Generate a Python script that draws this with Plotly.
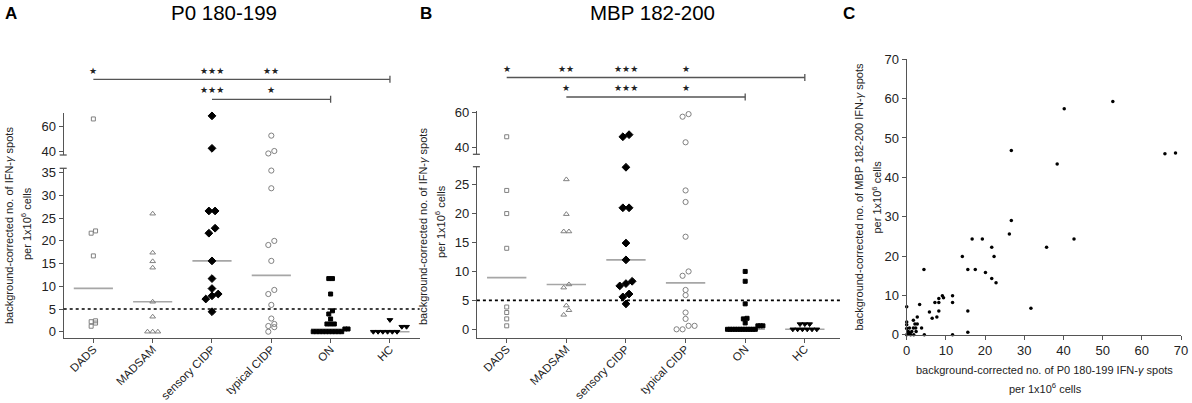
import numpy as np
import plotly.graph_objects as go

W, H = 1192, 403
FONT = "Liberation Sans, Arial, sans-serif"

groups = ["DADS", "MADSAM", "sensory CIDP", "typical CIDP", "ON", "HC"]

# panel A - P0 180-199 (background-corrected IFN-g spots per 1x10^6 cells)
p0_dads = [65.5, 22.2, 21.7, 16.7, 2.4, 2.2, 1.9, 1.2]
p0_madsam = [26.0, 17.4, 15.5, 14.1, 6.6, 3.3, 0, 0, 0]
p0_sensory = [67.9, 42.6, 26.6, 26.6, 22.8, 21.7, 15.6, 11.7, 9.5, 8.3, 7.9, 7.2, 4.4]
p0_typical = [52.5, 40.5, 38.6, 35.5, 31.6, 20.0, 19.1, 15.6, 9.2, 8.3, 5.9, 2.9, 1.7, 1.25, 1.0, 0]
p0_on = [11.7, 11.7, 8.3, 4.6, 3.9, 2.8, 1.7, 1.7, 1.7, 0.6, 0.6, 0, 0, 0, 0, 0, 0, 0, 0, 0, 0]
p0_hc = [2.6, 1.1, 1.1, 0, 0, 0, 0, 0, 0]

# panel B - MBP 182-200
mbp_dads = [46.1, 24.0, 20.0, 14.0, 3.85, 2.9, 1.8, 0.6]
mbp_madsam = [25.9, 19.9, 16.9, 16.9, 7.75, 7.2, 4.1, 3.3, 2.5]
mbp_sensory = [47.3, 46.1, 28.0, 21.0, 21.0, 14.9, 12.0, 8.3, 7.9, 7.5, 6.1, 5.6, 4.4]
mbp_typical = [59.2, 57.7, 42.9, 24.0, 22.0, 16.0, 10.0, 9.25, 6.8, 5.9, 2.9, 1.8, 0.6, 0.6, 0, 0]
mbp_on = [10.0, 8.3, 4.4, 1.9, 1.8, 1.1, 0.6, 0.6, 0.6, 0, 0, 0, 0, 0, 0, 0, 0, 0, 0, 0, 0]
mbp_hc = [0.9, 0.9, 0.9, 0, 0, 0, 0, 0, 0]

# significance brackets: (from, to, stars per group)
p0_sig = [("DADS", "HC", {"DADS": 1, "sensory CIDP": 3, "typical CIDP": 2}),
          ("sensory CIDP", "ON", {"sensory CIDP": 3, "typical CIDP": 1})]
mbp_sig = [("DADS", "HC", {"DADS": 1, "MADSAM": 2, "sensory CIDP": 3, "typical CIDP": 1}),
           ("MADSAM", "ON", {"MADSAM": 1, "sensory CIDP": 3, "typical CIDP": 1})]

# panel C - P0 vs MBP per sample
scatter_p0 = [26.7, 26.2, 16.7, 19.3, 21.7, 22.3, 14.2, 15.6, 17.5, 4.4, 20.1, 21.7, 22.8,
              11.7, 11.7, 9.1, 9.4, 8.2, 7.2, 8.2, 3.3, 5.8, 8.2, 15.6, 7.7, 6.5, 0, 2.7,
              1.7, 2.1, 2.7, 3.8, 1.7, 2.3, 0.7, 0, 0, 0, 0.4, 1.3, 2.4, 0.8, 0.3, 0, 4.5,
              11.7, 15.6, 1.0, 1.8, 52.6, 40.2, 26.7, 38.4, 65.9, 68.6, 42.7, 35.7, 31.7]
scatter_mbp = [29.0, 25.6, 24.3, 24.3, 22.2, 19.9, 19.9, 16.6, 16.6, 16.6, 15.8, 14.3, 13.2,
               9.9, 8.2, 9.9, 9.4, 9.2, 8.2, 8.2, 7.7, 5.8, 6.0, 6.0, 4.5, 4.2, 7.1, 4.5,
               3.7, 2.7, 2.7, 1.7, 1.7, 1.7, 1.7, 3.2, 2.5, 1.6, 0.8, 0.8, 0.8, 0.4, 0.2, 0, 0,
               0, 0.6, 0, 0, 59.3, 57.4, 46.8, 43.4, 46.0, 46.2, 24.3, 22.2, 6.7]

# marker look per group: symbol, size, colour, step between neighbours (px)
styles = [("square-open", 4, "#808080", 4.4),
          ("triangle-up-open", 5, "#808080", 5.2),
          ("diamond", 6, "black", 6.2),
          ("circle-open", 5.2, "#808080", 6.0),
          ("square", 4, "black", 3.7),
          ("triangle-down", 5, "black", 4.8)]

AXC = "#555555"

fig = go.Figure()
shapes = []
annotations = []


def px_x(p):
    return p / W


def px_y(p):
    return 1 - p / H


def note(text, x, y, size, angle=0, family=FONT, color="#222", xref="paper"):
    annotations.append(dict(text=text, xref=xref, yref="paper", x=x, y=y, textangle=angle,
                            xanchor="center", yanchor="middle", showarrow=False,
                            font=dict(family=family, size=size, color=color)))


def swarm(vals, height_px, size_px, step_px, unit_px, maxw=38):
    # simple beeswarm: bin by pixel height, spread each bin sideways
    order = sorted(range(len(vals)), key=lambda i: vals[i])
    bins = []
    for i in order:
        p = height_px(vals[i])
        if bins and p - bins[-1][0] < size_px:
            bins[-1][1].append(i)
        else:
            bins.append([p, [i]])
    offs = [0.0] * len(vals)
    for _, idx in bins:
        n = len(idx)
        st = min(step_px, maxw / n) if n > 1 else step_px
        for k, i in enumerate(idx):
            offs[i] = (k - (n - 1) / 2) * st / unit_px
    return offs


def dot_panel(data, sig, c, xn, lo, hi):
    x0, x1 = c["x_px"]
    unit = (x1 - x0) / (c["xr"][1] - c["xr"][0])
    k_lo = (c["lo_px"][0] - c["lo_px"][1]) / (c["lo_r"][1] - c["lo_r"][0])
    k_up = (c["up_px"][0] - c["up_px"][1]) / (c["up_r"][1] - c["up_r"][0])
    gap = c["lo_px"][0] - c["up_px"][0]

    def height(v):
        if v <= c["lo_r"][1]:
            return (v - c["lo_r"][0]) * k_lo
        return gap + (v - c["up_r"][0]) * k_up

    # median bars first so the points sit on top
    for i, vals in enumerate(data):
        m = float(np.median(vals))
        fig.add_trace(go.Scatter(x=[i - 0.33, i + 0.33], y=[m, m], mode="lines",
                                 line=dict(color="#a6a6a6", width=1.6),
                                 xaxis=xn, yaxis=lo, hoverinfo="skip"))
    for i, vals in enumerate(data):
        sym, size, col, step = styles[i]
        offs = swarm(vals, height, size, step, unit)
        for ax, keep in ((lo, lambda v: v <= c["lo_r"][1]), (hi, lambda v: v > c["lo_r"][1])):
            xs = [i + o for v, o in zip(vals, offs) if keep(v)]
            ys = [v for v in vals if keep(v)]
            if not ys:
                continue
            fig.add_trace(go.Scatter(
                x=xs, y=ys, mode="markers", xaxis=xn, yaxis=ax, cliponaxis=False,
                marker=dict(symbol=sym, size=size, color=col,
                            line=dict(color=col, width=1))))

    base = dict(showgrid=False, zeroline=False, showline=True, linecolor=AXC, linewidth=1.3,
                ticks="outside", ticklen=4, tickcolor=AXC, tickwidth=1.2, automargin=False,
                tickfont=dict(family=FONT, size=13, color="#222"))
    xk = "xaxis" + xn[1:]
    lk = "yaxis" + lo[1:]
    hk = "yaxis" + hi[1:]
    fig.layout[xk] = dict(base, domain=[px_x(x0), px_x(x1)], range=c["xr"], anchor=lo,
                          tickvals=list(range(len(groups))), ticktext=groups, tickangle=-45,
                          tickfont=dict(family=FONT, size=11.5, color="#222"),
                          ticklabelstandoff=-5)
    fig.layout[lk] = dict(base, domain=[px_y(c["lo_px"][0]), px_y(c["lo_px"][1])],
                          range=c["lo_r"], anchor=xn, tickvals=c["lo_ticks"])
    fig.layout[hk] = dict(base, domain=[px_y(c["up_px"][0]), px_y(c["up_px"][1])],
                          range=c["up_r"], anchor=xn, tickvals=c["up_ticks"])

    # axis break caps
    for yy in (c["lo_px"][1], c["up_px"][0]):
        shapes.append(dict(type="line", xref="paper", yref="paper",
                           x0=px_x(x0 - 4), x1=px_x(x0 + 3), y0=px_y(yy), y1=px_y(yy),
                           line=dict(color=AXC, width=1.3)))
    # threshold line at 5 spots
    shapes.append(dict(type="line", xref=xn + " domain", yref=lo, x0=0, x1=1, y0=5, y1=5,
                       line=dict(color="black", width=1.6, dash="dot")))
    # significance brackets
    for (a, b, stars), ly, sy in zip(sig, c["bar_px"], c["star_px"]):
        ia, ib = groups.index(a), groups.index(b)
        shapes.append(dict(type="line", xref=xn, yref="paper", x0=ia, x1=ib,
                           y0=px_y(ly), y1=px_y(ly), line=dict(color=AXC, width=1.3)))
        shapes.append(dict(type="line", xref=xn, yref="paper", x0=ib, x1=ib,
                           y0=px_y(ly - 3.5), y1=px_y(ly + 3.5), line=dict(color=AXC, width=1.3)))
        for g, n in stars.items():
            note("\u2605" * n, groups.index(g), px_y(sy), 9, family="DejaVu Sans", xref=xn)

    # panel title and y-axis title
    note(c["title"], px_x(c["title_px"][0]), px_y(c["title_px"][1]), 20.5, color="black")
    for txt, (tx, ty) in zip(ytitle, c["ytitle_px"]):
        note(txt, px_x(tx), px_y(ty), 11, angle=-90)


ytitle = ["background-corrected no. of IFN-<i>\u03b3</i> spots", "per 1x10<sup>6</sup> cells"]

cfg_a = dict(x_px=(63.7, 419.6), xr=[-0.5, 5.5],
             lo_px=(338.0, 168.3), lo_r=[-1.39, 36.0], lo_ticks=[0, 5, 10, 15, 20, 25, 30, 35],
             up_px=(155.0, 113.3), up_r=[37.4, 69.9], up_ticks=[40, 60],
             bar_px=(79.3, 99.3), star_px=(70.5, 90.5),
             title="P0 180-199", title_px=(224, 13), ytitle_px=[(9, 226), (26, 224)])
cfg_b = dict(x_px=(476.9, 840.0), xr=[-0.5, 5.59],
             lo_px=(337.7, 166.7), lo_r=[-1.45, 28.1], lo_ticks=[0, 5, 10, 15, 20, 25],
             up_px=(154.3, 111.0), up_r=[35.95, 61.0], up_ticks=[40, 60],
             bar_px=(77.5, 97.0), star_px=(68.5, 88.0),
             title="MBP 182-200", title_px=(653, 13), ytitle_px=[(423, 226), (440, 222)])

dot_panel([p0_dads, p0_madsam, p0_sensory, p0_typical, p0_on, p0_hc], p0_sig, cfg_a, "x", "y", "y2")
dot_panel([mbp_dads, mbp_madsam, mbp_sensory, mbp_typical, mbp_on, mbp_hc], mbp_sig, cfg_b, "x2", "y3", "y4")

# panel C
fig.add_trace(go.Scatter(x=scatter_p0, y=scatter_mbp, mode="markers", xaxis="x3", yaxis="y5",
                         cliponaxis=False, marker=dict(color="black", size=3.5)))
cax = dict(showgrid=False, zeroline=False, showline=True, linecolor=AXC, linewidth=1.3,
           ticks="outside", ticklen=4, tickcolor=AXC, tickwidth=1.2, range=[0, 70], dtick=10,
           automargin=False, tickfont=dict(family=FONT, size=13, color="#222"))
fig.layout["xaxis3"] = dict(cax, domain=[px_x(906.7), px_x(1181)], anchor="y5")
fig.layout["yaxis5"] = dict(cax, domain=[px_y(334.7), px_y(59.3)], anchor="x3")

c_titles = [("background-corrected no. of MBP 182-200 IFN-<i>\u03b3</i> spots", 858.5, 197, -90),
            ("per 1x10<sup>6</sup> cells", 876.5, 197, -90),
            ("background-corrected no. of P0 180-199 IFN-<i>\u03b3</i> spots", 1044, 370, 0),
            ("per 1x10<sup>6</sup> cells", 1045.5, 388, 0)]
for txt, tx, ty, ang in c_titles:
    note(txt, px_x(tx), px_y(ty), 11, angle=ang)

# panel letters
for letter, lx in (("A", 10.5), ("B", 426), ("C", 849)):
    note("<b>" + letter + "</b>", px_x(lx), px_y(14), 17, color="black")

fig.update_layout(width=W, height=H, margin=dict(l=0, r=0, t=0, b=0),
                  paper_bgcolor="white", plot_bgcolor="white", showlegend=False,
                  shapes=shapes, annotations=annotations)

# page body has a default 8px margin, drop it so the figure sits in the corner
fig.write_html("out.html", config={"displayModeBar": False},
               post_script="document.body.style.margin='0px';")
